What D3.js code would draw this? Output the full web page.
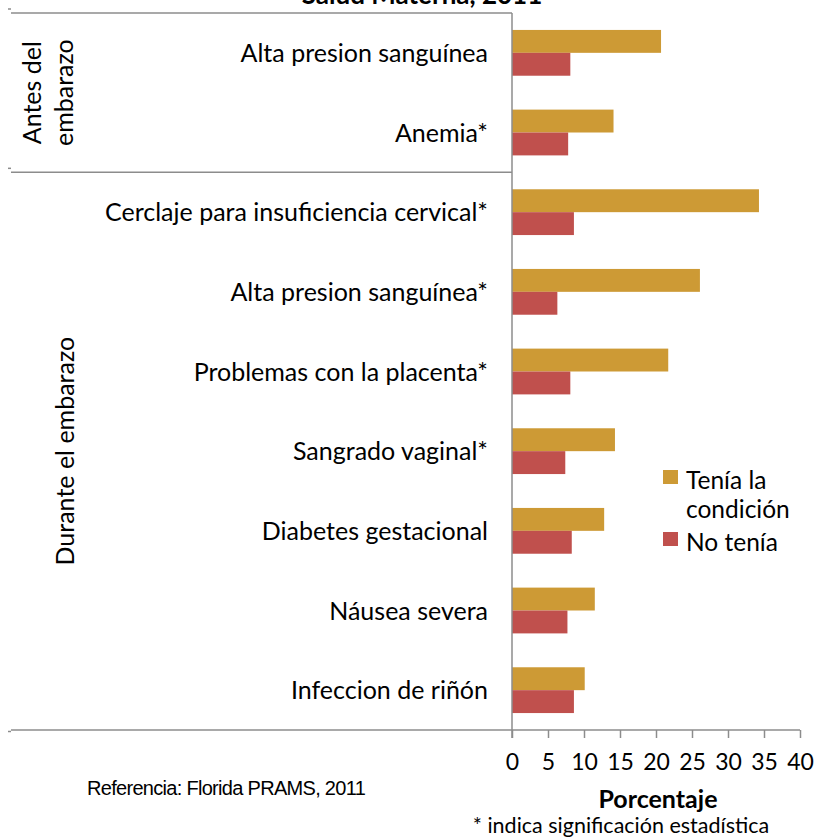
<!DOCTYPE html>
<html lang="es">
<head>
<meta charset="utf-8">
<title>Salud Materna, 2011</title>
<style>
  body { margin: 0; background: #fff; }
  svg text { font-family: Lato, "Open Sans", sans-serif; fill: #000; }
</style>
</head>
<body>
<script src="https://cdn.jsdelivr.net/npm/d3@7"></script>
<script>
var width = 816, height = 840;

// datos (porcentaje)
var categorias = ["Alta presion sanguínea", "Anemia*", "Cerclaje para insuficiencia cervical*",
  "Alta presion sanguínea*", "Problemas con la placenta*", "Sangrado vaginal*",
  "Diabetes gestacional", "Náusea severa", "Infeccion de riñón"];
var tenia   = [20.7, 14.1, 34.3, 26.1, 21.7, 14.3, 12.8, 11.5, 10.1];
var noTenia = [8.1, 7.8, 8.6, 6.3, 8.1, 7.4, 8.3, 7.7, 8.6];
var series = ["Tenía la condición", "No tenía"];
var grupos = [["Antes del", "embarazo"], ["Durante el embarazo"]];
var grupoTam = [2, 7];
var xTicks = [0, 5, 10, 15, 20, 25, 30, 35, 40];

var colores = ["#CD9A35", "#C0504D"];
var gris = "#8c8c8c";

var svg = d3.select("body").append("svg")
  .attr("width", width).attr("height", height);

var x0 = 512, x1 = 800, yTop = 13, yBot = 730, leftX = 11;

var x = d3.scaleLinear().domain([0, 40]).range([x0, x1]);
var y = d3.scaleBand().domain(d3.range(categorias.length)).range([yTop, yBot]);
var ySub = d3.scaleBand().domain([0, 1]).range([0, y.bandwidth()]).paddingOuter(0.74);

// titulo (cortado arriba, como en el original)
svg.append("text")
  .attr("x", 422).attr("y", 4)
  .attr("text-anchor", "middle")
  .style("font-weight", "bold").style("font-size", "26px")
  .text("Salud Materna, 2011");

// barras
var filas = categorias.map(function(c, i) { return {i: i, vals: [tenia[i], noTenia[i]]}; });
var g = svg.append("g").selectAll("g").data(filas).enter().append("g")
  .attr("transform", function(d) { return "translate(0," + y(d.i) + ")"; });
g.selectAll("rect").data(function(d) { return d.vals; }).enter().append("rect")
  .attr("x", x(0))
  .attr("y", function(d, j) { return ySub(j); })
  .attr("width", function(d) { return x(d) - x(0); })
  .attr("height", ySub.bandwidth())
  .attr("fill", function(d, j) { return colores[j]; });

// etiquetas de categorias
svg.append("g").selectAll("text").data(categorias).enter().append("text")
  .attr("x", 488)
  .attr("y", function(d, i) { return y(i) + y.bandwidth() / 2 + 9; })
  .attr("text-anchor", "end")
  .style("font-size", "25px")
  .text(function(d) { return d; });

// eje x
var xAxis = d3.axisBottom(x).tickValues(xTicks).tickSize(8).tickPadding(16);
var ax = svg.append("g").attr("transform", "translate(0," + yBot + ")").call(xAxis);
ax.select(".domain").remove();
ax.selectAll("line").attr("stroke", gris).attr("stroke-width", 1.5);
ax.selectAll("text").style("font-size", "23px").style("font-family", "Lato, sans-serif");

// lineas de la caja de grupos
var lineas = [yTop];
var acum = 0;
grupoTam.forEach(function(n) { acum += n; lineas.push(y(acum - 1) + y.bandwidth()); });
svg.append("g").selectAll("line").data(lineas).enter().append("line")
  .attr("x1", leftX).attr("x2", function(d, i) { return i === lineas.length - 1 ? x1 : x0; })
  .attr("y1", function(d) { return d; }).attr("y2", function(d) { return d; })
  .attr("stroke", gris).attr("stroke-width", 1.5);
svg.append("g").selectAll("line").data(lineas).enter().append("line")
  .attr("x1", leftX - 3).attr("x2", leftX)
  .attr("y1", function(d, i) { return i === lineas.length - 1 ? d + 1.5 : d - 4; })
  .attr("y2", function(d, i) { return i === lineas.length - 1 ? d + 1.5 : d - 4; })
  .attr("stroke", gris).attr("stroke-width", 1.5);
svg.append("line")
  .attr("x1", x0).attr("x2", x0).attr("y1", yTop).attr("y2", yBot + 8)
  .attr("stroke", gris).attr("stroke-width", 1.5);

// etiquetas de grupos (giradas)
var inicio = 0;
grupos.forEach(function(lbl, k) {
  var ya = y(inicio), yb = y(inicio + grupoTam[k] - 1) + y.bandwidth();
  var cy = (ya + yb) / 2;
  var t = svg.append("text")
    .attr("transform", "translate(" + (lbl.length > 1 ? 41 : 74) + "," + cy + ") rotate(-90)")
    .attr("text-anchor", "middle")
    .style("font-size", "25px");
  lbl.forEach(function(s, j) {
    t.append("tspan").attr("x", 0).attr("dy", j === 0 ? 0 : 32).text(s);
  });
  inicio += grupoTam[k];
});

// leyenda
var ley = svg.append("g").attr("transform", "translate(663,470)");
var itemY = [0, 62];
series.forEach(function(s, j) {
  var it = ley.append("g").attr("transform", "translate(0," + itemY[j] + ")");
  it.append("rect").attr("width", 15).attr("height", 14).attr("fill", colores[j]);
  var t = it.append("text").attr("x", 23).attr("y", 19).style("font-size", "24.5px");
  if (j === 0) {
    t.append("tspan").attr("x", 23).text("Tenía la");
    t.append("tspan").attr("x", 23).attr("dy", 29).text("condición");
  } else {
    t.text(s);
  }
});

// textos de abajo
svg.append("text").attr("x", 658).attr("y", 808).attr("text-anchor", "middle")
  .style("font-size", "25px").style("font-weight", "bold").text("Porcentaje");
svg.append("text").attr("x", 87).attr("y", 795)
  .style("font-family", "'Liberation Sans Narrow', 'Arial Narrow', sans-serif")
  .style("font-size", "20px").style("letter-spacing", "-0.7px")
  .text("Referencia: Florida PRAMS, 2011");
svg.append("text").attr("x", 621).attr("y", 833).attr("text-anchor", "middle")
  .style("font-size", "21.5px")
  .text("* indica significación estadística");
</script>
</body>
</html>
